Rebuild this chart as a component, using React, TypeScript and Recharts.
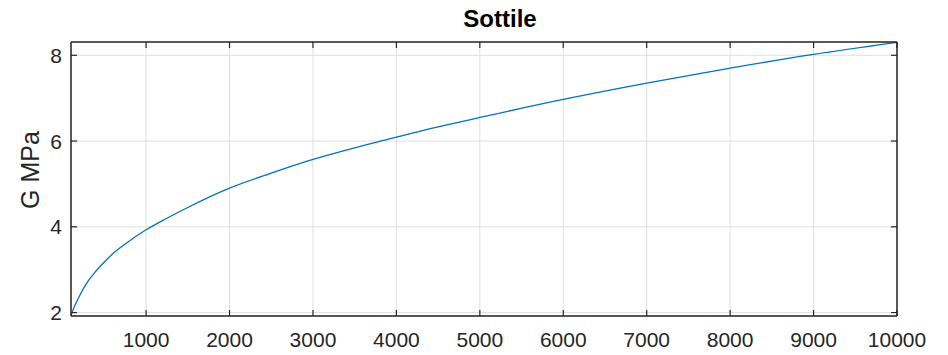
import React from 'react';
import { LineChart, Line, XAxis, YAxis, CartesianGrid } from 'recharts';

const xValues = [100, 150, 200, 300, 400, 500, 600, 750, 1000, 1250, 1500, 2000, 2500, 3000, 3500, 4000, 4500, 5000, 6000, 7000, 8000, 9000, 10000];
const gValues = [1.93, 2.18, 2.38, 2.72, 2.97, 3.18, 3.37, 3.6, 3.93, 4.2, 4.45, 4.9, 5.25, 5.57, 5.84, 6.09, 6.33, 6.55, 6.97, 7.35, 7.7, 8.02, 8.3];
const xTicks = [1000, 2000, 3000, 4000, 5000, 6000, 7000, 8000, 9000, 10000];
const yTicks = [2, 4, 6, 8];
const xDomain = [100, 10000];
const yDomain = [1.92, 8.31];

const AXIS = '#262626';
const FONT = '"Liberation Sans", Arial, Helvetica, sans-serif';

const data = xValues.map((x, i) => ({ x, g: gValues[i] }));

const BottomTick = (props: any) => {
    const { x, y, payload } = props;
    return (
        <g>
            <line x1={x} y1={y} x2={x} y2={y - 6} stroke={AXIS} strokeWidth={1.2} />
            <text x={x} y={y + 31} textAnchor="middle" fontSize={21} fontFamily={FONT} fill={AXIS}>
                {payload.value}
            </text>
        </g>
    );
};

const TopTick = (props: any) => {
    const { x, y } = props;
    return <line x1={x} y1={y} x2={x} y2={y + 6} stroke={AXIS} strokeWidth={1.2} />;
};

const LeftTick = (props: any) => {
    const { x, y, payload } = props;
    return (
        <g>
            <line x1={x} y1={y} x2={x + 6} y2={y} stroke={AXIS} strokeWidth={1.2} />
            <text x={x - 9} y={y} dy="0.36em" textAnchor="end" fontSize={21} fontFamily={FONT} fill={AXIS}>
                {payload.value}
            </text>
        </g>
    );
};

const RightTick = (props: any) => {
    const { x, y } = props;
    return <line x1={x} y1={y} x2={x - 6} y2={y} stroke={AXIS} strokeWidth={1.2} />;
};

const App: React.FC = () => {
    return (
        <div style={{ position: 'absolute', left: 0, top: 0, width: 948, height: 355, background: '#fff' }}>
            <div
                style={{
                    position: 'absolute',
                    left: 400,
                    width: 200,
                    top: 5,
                    textAlign: 'center',
                    fontFamily: FONT,
                    fontWeight: 'bold',
                    fontSize: 24,
                    color: '#000',
                }}
            >
                Sottile
            </div>
            <div
                style={{
                    position: 'absolute',
                    left: 30,
                    top: 170,
                    transform: 'translate(-50%, -50%) rotate(-90deg)',
                    fontFamily: FONT,
                    fontSize: 25,
                    color: AXIS,
                    whiteSpace: 'nowrap',
                }}
            >
                G MPa
            </div>
            <LineChart
                width={948}
                height={355}
                data={data}
                margin={{ top: 41, right: 50, bottom: 0, left: 11 }}
                style={{ position: 'absolute', left: 0, top: 0 }}
            >
                <CartesianGrid stroke="#dfdfdf" strokeWidth={1} />
                <XAxis
                    dataKey="x"
                    type="number"
                    domain={xDomain}
                    ticks={xTicks}
                    allowDataOverflow
                    tickLine={false}
                    tickSize={0}
                    tickMargin={0}
                    tick={<BottomTick />}
                    axisLine={{ stroke: AXIS, strokeWidth: 1.5 }}
                    height={39}
                />
                <XAxis
                    xAxisId="top"
                    orientation="top"
                    dataKey="x"
                    type="number"
                    domain={xDomain}
                    ticks={xTicks}
                    allowDataOverflow
                    tickLine={false}
                    tickSize={0}
                    tickMargin={0}
                    tick={<TopTick />}
                    axisLine={{ stroke: AXIS, strokeWidth: 1.5 }}
                    height={1}
                />
                <YAxis
                    type="number"
                    domain={yDomain}
                    ticks={yTicks}
                    allowDataOverflow
                    tickLine={false}
                    tickSize={0}
                    tickMargin={0}
                    tick={<LeftTick />}
                    axisLine={{ stroke: AXIS, strokeWidth: 1.5 }}
                    width={60}
                />
                <YAxis
                    yAxisId="right"
                    orientation="right"
                    type="number"
                    domain={yDomain}
                    ticks={yTicks}
                    allowDataOverflow
                    tickLine={false}
                    tickSize={0}
                    tickMargin={0}
                    tick={<RightTick />}
                    axisLine={{ stroke: AXIS, strokeWidth: 1.5 }}
                    width={1}
                />
                {/* invisible series so the box axes (top/right) get drawn */}
                <Line
                    xAxisId="top"
                    yAxisId="right"
                    type="monotone"
                    dataKey="g"
                    stroke="none"
                    dot={false}
                    activeDot={false}
                    isAnimationActive={false}
                />
                <Line
                    type="monotone"
                    dataKey="g"
                    stroke="#0072BD"
                    strokeWidth={1.3}
                    dot={false}
                    isAnimationActive={false}
                />
            </LineChart>
        </div>
    );
};

export default App;
